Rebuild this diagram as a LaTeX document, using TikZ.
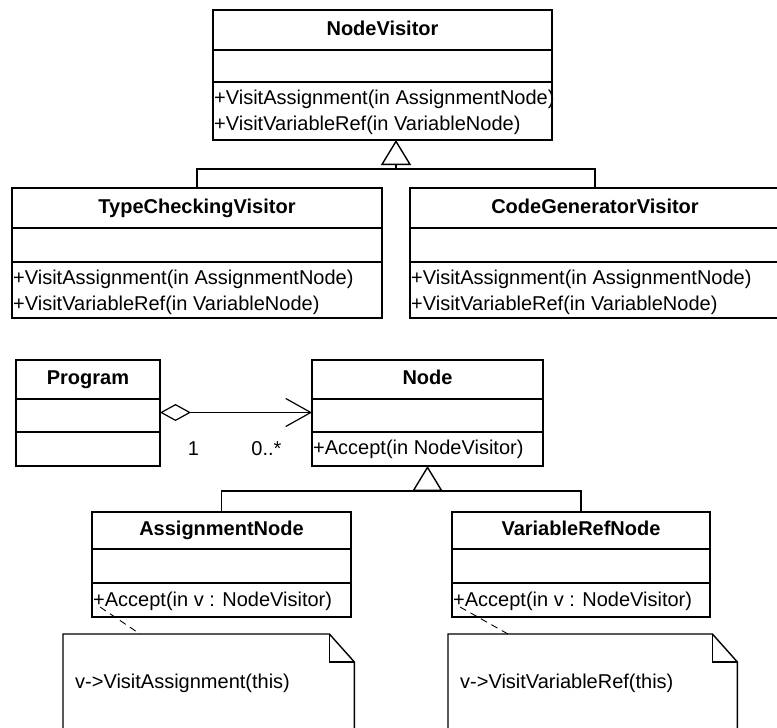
\documentclass[tikz,border=0pt]{standalone}
\usepackage{fontspec}
\setmainfont{Liberation Sans}
\usepackage{tikz}
\usetikzlibrary{arrows.meta}

% one class = title, attributes, operations
\newcommand{\umlclass}[8]{%
	\node[classpart, classtitle, minimum width=#4pt, minimum height=#5pt] (#1) at (#2, #3) {#8};
	\node[classpart, minimum width=#4pt, minimum height=#6pt] (#1-attr) at (#1.south west) {};
	\node[classpart, minimum width=#4pt, minimum height=#7pt] (#1-ops) at (#1-attr.south west) {};
}

\begin{document}
\begin{tikzpicture}[x=1pt, y=-1pt,
	every node/.style={font=\fontsize{20}{24}\selectfont},
	classpart/.style={draw, line width=1.4pt, anchor=north west, inner sep=0pt, outer sep=0pt},
	classtitle/.style={font=\fontsize{20}{24}\selectfont\bfseries, text height=14.5pt, text depth=4.5pt},
	op/.style={anchor=base west, inner sep=0pt},
	note/.style={anchor=north west, inner sep=0pt, minimum height=130pt},
	line/.style={line width=1.4pt},
	anchorline/.style={line width=.9pt, dash pattern=on 7pt off 5pt}]
	\useasboundingbox (0, 0) rectangle (777, 728);
	\clip (0, 0) rectangle (777, 728);

	\umlclass{nodevisitor}{213}{10}{339}{40}{32}{58}{NodeVisitor}
	\umlclass{typechecking}{12}{188}{370}{40}{34}{56}{TypeCheckingVisitor}
	\umlclass{codegenerator}{410}{188}{370}{40}{34}{56}{CodeGeneratorVisitor}
	\umlclass{program}{16}{360}{144}{39}{33}{34}{Program}
	\umlclass{node}{312}{360}{231}{39}{33}{34}{Node}
	\umlclass{assignmentnode}{92}{512}{259}{37}{34}{34}{AssignmentNode}
	\umlclass{variablerefnode}{452}{512}{258}{37}{34}{34}{VariableRefNode}

	\node[op] (nodevisitor-op1) at ([shift={(1pt,-22pt)}]nodevisitor-ops.north west) {+VisitAssignment(in AssignmentNode)};
	\node[op] (nodevisitor-op2) at ([shift={(1pt,-48pt)}]nodevisitor-ops.north west) {+VisitVariableRef(in VariableNode)};
	\node[op] (typechecking-op1) at ([shift={(1pt,-22pt)}]typechecking-ops.north west) {+VisitAssignment(in AssignmentNode)};
	\node[op] (typechecking-op2) at ([shift={(1pt,-48pt)}]typechecking-ops.north west) {+VisitVariableRef(in VariableNode)};
	\node[op] (codegenerator-op1) at ([shift={(1pt,-22pt)}]codegenerator-ops.north west) {+VisitAssignment(in AssignmentNode)};
	\node[op] (codegenerator-op2) at ([shift={(1pt,-48pt)}]codegenerator-ops.north west) {+VisitVariableRef(in VariableNode)};
	\node[op] (node-op1) at ([shift={(1pt,-22pt)}]node-ops.north west) {+Accept(in NodeVisitor)};
	\node[op] (assignmentnode-op1) at ([shift={(1pt,-23pt)}]assignmentnode-ops.north west) {+Accept(in v : NodeVisitor)};
	\node[op] (variablerefnode-op1) at ([shift={(1pt,-23pt)}]variablerefnode-ops.north west) {+Accept(in v : NodeVisitor)};

	% inheritance
	\coordinate (visitorjoin) at (396, 169);
	\draw[line] (typechecking.north) -- (typechecking.north |- visitorjoin) -| (codegenerator.north);
	\draw[line, -{Triangle[open, length=25pt, width=30pt]}] (visitorjoin) -- (visitorjoin |- nodevisitor-ops.south);
	\coordinate (nodejoin) at ([yshift=-25pt]node-ops.south);
	\draw[line] (assignmentnode.north) -- (assignmentnode.north |- nodejoin) -| (variablerefnode.north);
	\draw[line, -{Triangle[open, length=25pt, width=30pt]}] (nodejoin) -- (node-ops.south);

	% aggregation
	\draw[line width=1.2pt, {Diamond[open, length=31pt, width=17pt]}-{Straight Barb[length=25pt, width=28pt]}] ([yshift=3pt]program-attr.east) -- ([yshift=3pt]node-attr.west)
		node[pos=.22, yshift=-36pt] (mult1) {1}
		node[pos=.70, yshift=-36pt] (mult2) {0..*};

	% notes
	\node[note, minimum width=291pt] (assignnote) at (63, 634) {};
	\node[note, minimum width=289pt] (varnote) at (448, 634) {};
	\foreach \n in {assignnote, varnote} {
		\draw[line] (\n.south west) -- (\n.north west) -- ([xshift=-25pt]\n.north east) -- ([yshift=-28pt]\n.north east) -- (\n.south east) -- cycle;
		\draw[line] ([xshift=-25pt]\n.north east) |- ([yshift=-28pt]\n.north east);
	}
	\node[op] (assignnote-text) at ([shift={(12pt,-54pt)}]assignnote.north west) {v->VisitAssignment(this)};
	\node[op] (varnote-text) at ([shift={(12pt,-54pt)}]varnote.north west) {v->VisitVariableRef(this)};
	\draw[anchorline] ([shift={(8pt,10pt)}]assignmentnode-ops.south west) -- ([xshift=77pt]assignnote.north west);
	\draw[anchorline] ([shift={(8pt,10pt)}]variablerefnode-ops.south west) -- ([xshift=60pt]varnote.north west);
\end{tikzpicture}
\end{document}
